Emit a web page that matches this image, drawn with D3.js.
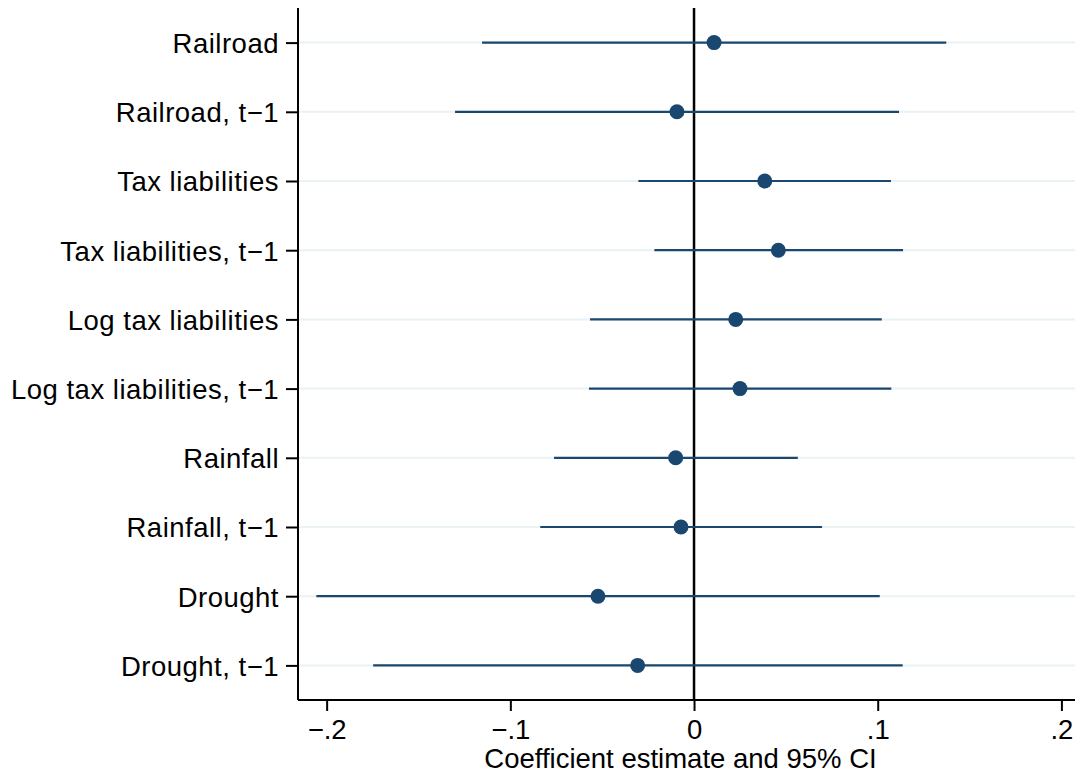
<!DOCTYPE html>
<html>
<head>
<meta charset="utf-8">
<script src="https://cdn.jsdelivr.net/npm/d3@7"></script>
<style>
  html, body { margin: 0; padding: 0; background: #fff; }
  svg { display: block; }
  text { font-family: "Liberation Sans", Arial, Helvetica, sans-serif; fill: #000; }
</style>
</head>
<body>
<svg id="chart" width="1077" height="776"></svg>
<script>
const categories = [
  "Railroad", "Railroad, t\u22121",
  "Tax liabilities", "Tax liabilities, t\u22121",
  "Log tax liabilities", "Log tax liabilities, t\u22121",
  "Rainfall", "Rainfall, t\u22121",
  "Drought", "Drought, t\u22121"
];
const estimates = [0.0109, -0.0093, 0.0385, 0.0459, 0.0227, 0.0250, -0.0100, -0.0071, -0.0523, -0.0307];
const ciLow     = [-0.1154, -0.1301, -0.0303, -0.0216, -0.0566, -0.0572, -0.0762, -0.0837, -0.2056, -0.1747];
const ciHigh    = [0.1373, 0.1116, 0.1072, 0.1138, 0.1022, 0.1074, 0.0565, 0.0697, 0.1011, 0.1136];
const xTickValues = [-0.2, -0.1, 0, 0.1, 0.2];
const xTickLabels = ["\u2212.2", "\u2212.1", "0", ".1", ".2"];
const xTitle = "Coefficient estimate and 95% CI";

const svg = d3.select("#chart");
const pLeft = 298, pRight = 1075, pTop = 8, pBottom = 700;
const navy = "#1a476f";
const fontSize = "27.5px";

const x = d3.scaleLinear().domain([-0.2156, 0.2074]).range([pLeft, pRight]);
const y = d3.scalePoint().domain(categories).range([pTop, pBottom]).padding(0.5);

const rows = categories.map((c, i) => ({ cat: c, est: estimates[i], lo: ciLow[i], hi: ciHigh[i] }));

// grid lines
svg.append("g").selectAll("line").data(categories).join("line")
  .attr("x1", pLeft).attr("x2", pRight)
  .attr("y1", d => y(d)).attr("y2", d => y(d))
  .attr("stroke", "#eaf2f3").attr("stroke-width", 2);

// zero line
svg.append("line")
  .attr("x1", x(0)).attr("x2", x(0)).attr("y1", pTop).attr("y2", pBottom)
  .attr("stroke", "#000").attr("stroke-width", 2.5);

// CI lines
svg.append("g").selectAll("line").data(rows).join("line")
  .attr("x1", d => x(d.lo)).attr("x2", d => x(d.hi))
  .attr("y1", d => y(d.cat)).attr("y2", d => y(d.cat))
  .attr("stroke", navy).attr("stroke-width", 2.2);

// points
svg.append("g").selectAll("circle").data(rows).join("circle")
  .attr("cx", d => x(d.est)).attr("cy", d => y(d.cat)).attr("r", 7.5)
  .attr("fill", navy);

// y axis
const yAxis = d3.axisLeft(y).tickSize(12).tickPadding(7);
const gy = svg.append("g").attr("transform", `translate(${pLeft},0)`).call(yAxis);
gy.select(".domain").attr("d", `M0,${pTop}V${pBottom}`).attr("stroke-width", 2);
gy.selectAll(".tick line").attr("stroke-width", 2);
gy.selectAll(".tick text").style("font-size", fontSize).style("letter-spacing", "0.5px")
  .attr("fill", "#000").attr("dy", "0.36em");

// x axis
const xAxis = d3.axisBottom(x).tickValues(xTickValues)
  .tickFormat((d, i) => xTickLabels[i]).tickSize(11).tickPadding(8);
const gx = svg.append("g").attr("transform", `translate(0,${pBottom})`).call(xAxis);
gx.select(".domain").attr("d", `M${pLeft},0H${pRight}`).attr("stroke-width", 2);
gx.selectAll(".tick line").attr("stroke-width", 2);
gx.selectAll(".tick text").style("font-size", fontSize).attr("fill", "#000").attr("dy", "0.71em");

// x title
svg.append("text")
  .attr("x", (pLeft + pRight) / 2 - 6).attr("y", 768)
  .attr("text-anchor", "middle").style("font-size", fontSize)
  .text(xTitle);
</script>
</body>
</html>
